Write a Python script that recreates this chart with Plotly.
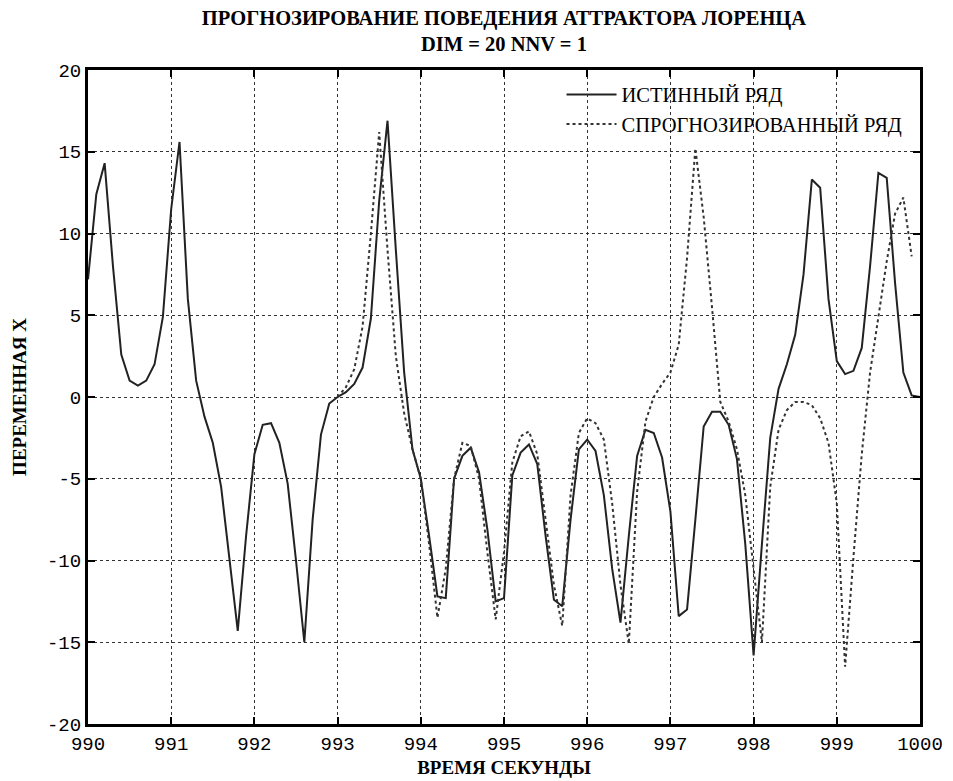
import plotly.graph_objects as go

# ---- data ----
true_t0 = 990.0
true_vals = [
    7.2, 12.4, 14.3, 8.0, 2.6, 1.0, 0.7, 1.0, 2.0, 4.9,
    11.5, 15.6, 6.0, 1.0, -1.2, -2.8, -5.5, -10.0, -14.3, -8.5,
    -3.5, -1.7, -1.6, -2.8, -5.3, -10.0, -15.0, -7.5, -2.3, -0.4,
    0.0, 0.3, 0.8, 1.8, 4.8, 12.0, 16.9, 9.0, 1.5, -3.2,
    -5.0, -8.5, -12.2, -12.3, -5.0, -3.6, -3.1, -4.6, -8.1, -12.5,
    -12.3, -4.8, -3.4, -2.9, -4.1, -8.5, -12.4, -12.8, -7.5, -3.2,
    -2.6, -3.3, -6.0, -10.5, -13.8, -8.5, -3.6, -2.0, -2.2, -3.7,
    -7.0, -13.4, -13.0, -7.5, -1.8, -0.9, -0.9, -1.7, -3.8, -9.0,
    -15.8, -9.0, -2.5, 0.5, 2.0, 3.8, 7.5, 13.3, 12.8, 6.0,
    2.2, 1.4, 1.6, 3.0, 8.0, 13.7, 13.4, 7.0, 1.5, 0.1,
    0.0,
]
pred_t0 = 993.0
pred_vals = [
    0.0, 0.6, 1.7, 4.3, 10.0, 16.2, 9.0, 2.5, -1.0, -3.2,
    -5.0, -9.0, -13.5, -10.5, -5.0, -2.8, -3.0, -5.0, -9.5, -13.6,
    -9.5, -4.0, -2.4, -2.1, -3.5, -7.5, -11.5, -14.0, -6.0, -2.2,
    -1.3, -1.6, -2.6, -6.5, -11.5, -15.1, -5.8, -1.5, 0.0, 0.8,
    1.5, 3.2, 8.5, 15.2, 11.0, 5.5, -0.3, -1.5, -3.2, -6.0,
    -10.5, -15.0, -5.5, -2.0, -0.8, -0.3, -0.3, -0.5, -1.3, -2.8,
    -6.5, -16.5, -9.8, -3.5, 1.5, 4.8, 8.3, 11.2, 12.2, 8.6,
]
dt = 0.1
true_t = [round(true_t0 + i * dt, 2) for i in range(len(true_vals))]
pred_t = [round(pred_t0 + i * dt, 2) for i in range(len(pred_vals))]

x_tick_vals = [990, 991, 992, 993, 994, 995, 996, 997, 998, 999, 1000]
x_tick_text = ["990", "991", "992", "993", "994", "995", "996", "997", "998", "999", "1000"]
y_tick_vals = [20, 15, 10, 5, 0, -5, -10, -15, -20]
y_tick_text = ["20", "15", "10", "5", "0", "-5", "-10", "-15", "-20"]

title_line1 = "ПРОГНОЗИРОВАНИЕ ПОВЕДЕНИЯ АТТРАКТОРА ЛОРЕНЦА"
title_line2 = "DIM = 20 NNV = 1"
x_title = "ВРЕМЯ СЕКУНДЫ"
y_title = "ПЕРЕМЕННАЯ X"
name_true = "ИСТИННЫЙ РЯД"
name_pred = "СПРОГНОЗИРОВАННЫЙ РЯД"

TXT = "Liberation Serif"
NUM = "Liberation Mono"

fig = go.Figure()
fig.add_trace(go.Scatter(x=true_t, y=true_vals, mode="lines", name=name_true,
                         line=dict(color="#222222", width=2, dash="solid")))
fig.add_trace(go.Scatter(x=pred_t, y=pred_vals, mode="lines", name=name_pred,
                         line=dict(color="#333333", width=2, dash="dot")))

fig.update_layout(
    width=953, height=781,
    margin=dict(l=88, r=33, t=70, b=57, autoexpand=False),
    paper_bgcolor="white", plot_bgcolor="white",
    font=dict(family=NUM, color="black", size=19),
    title=dict(text="<b>" + title_line1 + "</b>", x=0.5, xref="paper", xanchor="center",
               yref="container", y=1 - 18 / 781, yanchor="middle",
               font=dict(family=TXT, size=20.5, color="black")),
    annotations=[dict(text="<b>" + title_line2 + "</b>", xref="paper", x=0.5, xanchor="center",
                      yref="paper", y=1 + (70 - 44) / 654, yanchor="middle", showarrow=False,
                      font=dict(family=TXT, size=20.5, color="black"))],
    showlegend=True,
    legend=dict(x=0.985, y=0.993, xanchor="right", yanchor="top",
                bgcolor="rgba(255,255,255,0)", borderwidth=0,
                font=dict(family=TXT, size=20.5, color="black"),
                tracegroupgap=0, itemwidth=50),
)
fig.update_xaxes(
    range=[990, 1000], tickvals=x_tick_vals, ticktext=x_tick_text,
    showline=True, linecolor="black", linewidth=3, mirror="ticks",
    ticks="inside", ticklen=7, tickwidth=2, tickcolor="black",
    showgrid=True, gridcolor="#333333", gridwidth=1, griddash="dot",
    zeroline=False, automargin=False,
    title=dict(text="<b>" + x_title + "</b>", font=dict(family=TXT, size=19), standoff=6),
    tickfont=dict(family=NUM, size=19),
)
fig.update_yaxes(
    range=[-20, 20], tickvals=y_tick_vals, ticktext=y_tick_text,
    showline=True, linecolor="black", linewidth=3, mirror="ticks",
    ticks="inside", ticklen=7, tickwidth=2, tickcolor="black",
    showgrid=True, gridcolor="#333333", gridwidth=1, griddash="dot",
    zeroline=False, automargin=False,
    title=dict(text="<b>" + y_title + "</b>", font=dict(family=TXT, size=19), standoff=16),
    tickfont=dict(family=NUM, size=19),
)

fig.write_html("out.html")
